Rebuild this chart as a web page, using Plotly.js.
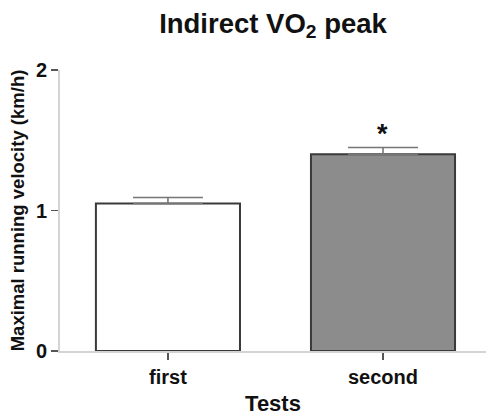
<!DOCTYPE html>
<html>
<head>
<meta charset="utf-8">
<script src="https://cdn.plot.ly/plotly-3.0.1.min.js"></script>
<style>html,body{margin:0;padding:0;background:#fff;}#chart{width:486px;height:416px;}</style>
</head>
<body>
<div id="chart"></div>
<script>
const categories = ["first", "second"];
const means = [1.05, 1.40];
const errorsUp = [0.043, 0.048];
const barColors = ["#ffffff", "#8c8c8c"];
const yTicks = [0, 1, 2];
const significance = ["", "*"];

const FONT = "Liberation Sans, Arial, sans-serif";

const trace = {
  type: "bar",
  x: categories,
  y: means,
  width: 0.67,
  marker: { color: barColors, line: { color: "#3a3a3a", width: 2 } },
  error_y: {
    type: "data", symmetric: false, array: errorsUp,
    arrayminus: errorsUp.map(() => 0),
    color: "#767676", thickness: 1.6, width: 35
  },
  hoverinfo: "skip"
};

const annotations = categories.map((c, i) => ({
  x: c, y: means[i] + errorsUp[i], xref: "x", yref: "y",
  text: significance[i], showarrow: false, yanchor: "bottom", yshift: -3,
  font: { family: FONT, size: 27, color: "#111", weight: "bold" }
})).filter(a => a.text);

const layout = {
  width: 486, height: 416,
  margin: { l: 60, r: 0, t: 70, b: 65 },
  paper_bgcolor: "#fff", plot_bgcolor: "#fff",
  showlegend: false,
  font: { family: FONT, color: "#111" },
  title: {
    text: "Indirect VO<sub>2</sub> peak",
    x: 0.5, xref: "paper", y: 0.945, yref: "container", yanchor: "middle",
    font: { family: FONT, size: 27.5, color: "#111", weight: "bold" }
  },
  xaxis: {
    type: "category", range: [-0.502, 1.479],
    showline: true, linecolor: "#d4d4d4", linewidth: 2,
    ticks: "outside", ticklen: 7, tickwidth: 1.5, tickcolor: "#555",
    tickfont: { family: FONT, size: 20, color: "#111", weight: "bold" },
    showgrid: false, zeroline: false,
    title: { text: "Tests", standoff: 10, font: { family: FONT, size: 22, color: "#111", weight: "bold" } }
  },
  yaxis: {
    range: [0, 2], tickvals: yTicks, ticktext: yTicks.map(String),
    showline: true, linecolor: "#d4d4d4", linewidth: 2,
    ticks: "outside", ticklen: 7, tickwidth: 1.5, tickcolor: "#555",
    tickfont: { family: FONT, size: 20, color: "#111", weight: "bold" },
    showgrid: false, zeroline: false,
    title: { text: "Maximal running velocity (km/h)", standoff: 6, font: { family: FONT, size: 18.5, color: "#111", weight: "bold" } }
  },
  annotations: annotations
};

Plotly.newPlot("chart", [trace], layout, { displayModeBar: false, staticPlot: true });
</script>
</body>
</html>
